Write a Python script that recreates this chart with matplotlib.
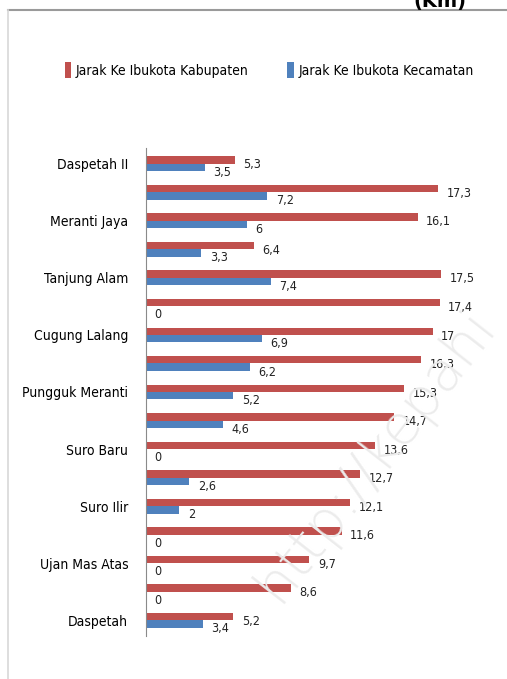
import numpy as np
import matplotlib
matplotlib.use("Agg")
import matplotlib.pyplot as plt
from matplotlib import font_manager
from matplotlib.lines import Line2D

# data (top to bottom)
desa = ["Daspetah II", "", "Meranti Jaya", "", "Tanjung Alam", "", "Cugung Lalang", "",
        "Pungguk Meranti", "", "Suro Baru", "", "Suro Ilir", "", "Ujan Mas Atas", "", "Daspetah"]
jarak_kab = [5.3, 17.3, 16.1, 6.4, 17.5, 17.4, 17, 16.3, 15.3, 14.7, 13.6, 12.7, 12.1, 11.6, 9.7, 8.6, 5.2]
jarak_kec = [3.5, 7.2, 6, 3.3, 7.4, 0, 6.9, 6.2, 5.2, 4.6, 0, 2.6, 2, 0, 0, 0, 3.4]
seri = ["Jarak Ke Ibukota Kabupaten", "Jarak Ke Ibukota Kecamatan"]

RED = "#c0504d"
BLUE = "#4f81bd"

# look for a narrow font, the original uses a condensed face
narrow = None
for f in font_manager.fontManager.ttflist:
    n = f.fname.lower()
    if ("narrow" in n or "condensed" in n) and "bold" not in n and "oblique" not in n and "italic" not in n:
        narrow = f.fname
        break

if narrow:
    fp = font_manager.FontProperties(fname=narrow)
    scale = 1.0
else:
    fp = font_manager.FontProperties(family="DejaVu Sans")
    scale = 0.78

def fprop(size):
    p = fp.copy()
    p.set_size(size * scale)
    return p

W, H = 507, 679
fig = plt.figure(figsize=(W / 100, H / 100), dpi=100)

# frame lines of the chart box
fig.add_artist(Line2D([8 / W, 1], [1 - 10 / H, 1 - 10 / H], color="#9a9a9a", lw=1.5))
fig.add_artist(Line2D([8 / W, 8 / W], [0, 1 - 10 / H], color="#d8d8d8", lw=1.2))
fig.text(440 / W, 1 - 1 / H, "(Km)", fontsize=14, fontweight="bold", ha="center", va="center",
         family="DejaVu Sans")

ax = fig.add_axes([145.5 / W, 1 - 636 / H, 338 / W, (636 - 148) / H])

y = np.arange(len(desa))
h = 0.26
ax.barh(y - h / 2, jarak_kab, height=h, color=RED, label=seri[0])
ax.barh(y + h / 2, jarak_kec, height=h, color=BLUE, label=seri[1])

def fmt(v):
    return ("%g" % v).replace(".", ",")

for i in range(len(desa)):
    ax.text(jarak_kab[i] + 0.5, y[i] - h / 2 + 0.17, fmt(jarak_kab[i]), fontproperties=fprop(9),
            va="center", ha="left", color="#222222")
    ax.text(jarak_kec[i] + 0.5, y[i] + h / 2 + 0.17, fmt(jarak_kec[i]), fontproperties=fprop(9),
            va="center", ha="left", color="#222222")

ax.set_xlim(0, 20)
ax.set_ylim(len(desa) - 0.45, -0.55)
ax.set_yticks(y)
ax.set_yticklabels(desa, fontproperties=fprop(10))
ax.tick_params(axis="y", length=0, pad=12.5)
ax.set_xticks([])
for s in ["top", "right", "bottom"]:
    ax.spines[s].set_visible(False)
ax.spines["left"].set_color("#8a8a8a")

leg = fig.legend(loc="center left", bbox_to_anchor=(52 / W, 1 - 70 / H), ncol=2, frameon=False,
                 prop=fprop(10), handlelength=0.5, handleheight=1.3, handletextpad=0.3,
                 columnspacing=2.8)

# watermark
fig.text(0.74, 0.33, "http://kepahi", fontsize=40, color="#ececec", rotation=52,
         ha="center", va="center", family="DejaVu Sans", fontweight="light", zorder=0)

fig.savefig("out.png", dpi=100)
